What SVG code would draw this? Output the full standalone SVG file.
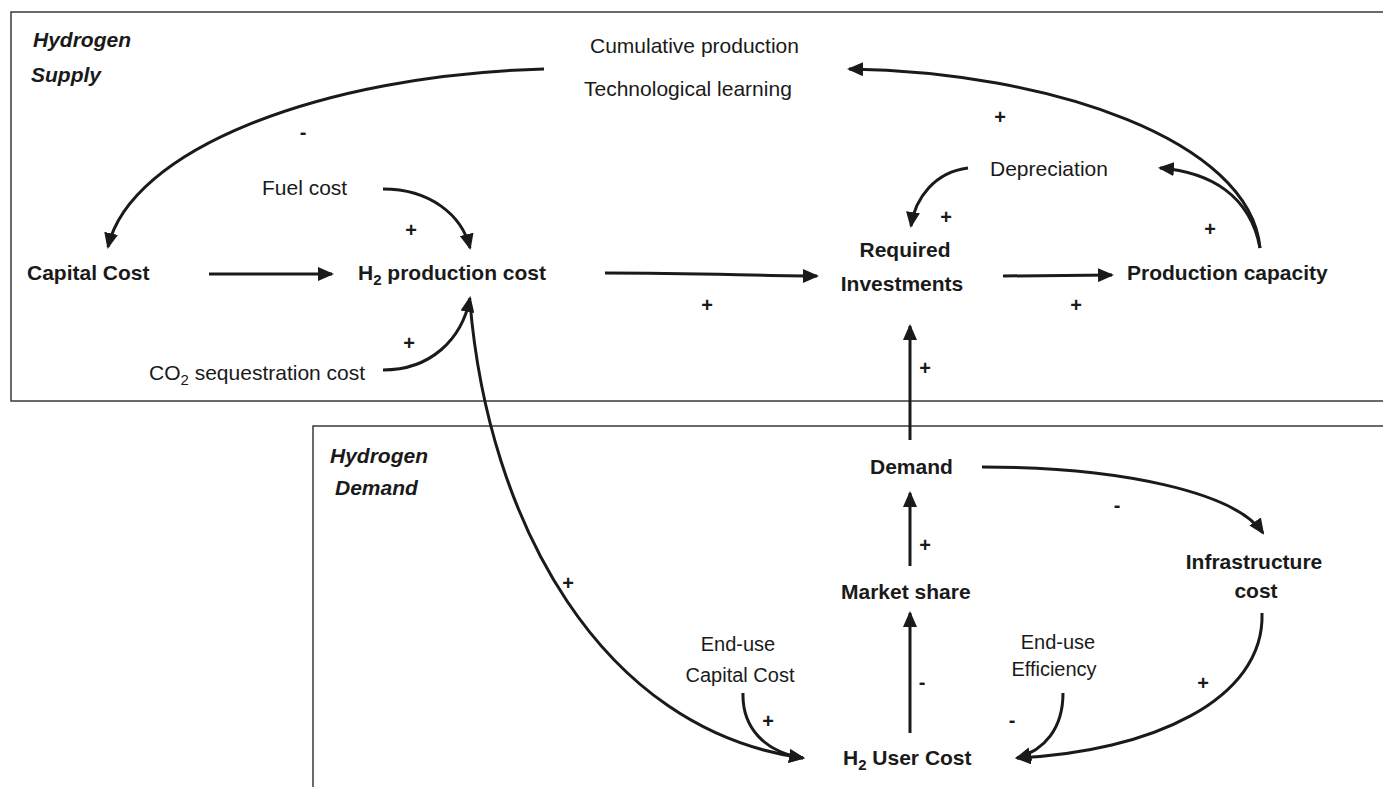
<svg xmlns="http://www.w3.org/2000/svg" width="1383" height="787" viewBox="0 0 1383 787">
<style>
.t{font-family:"Liberation Sans",Arial,Helvetica,sans-serif;font-size:21px;fill:#1a1a1a}
.b{font-weight:bold}
.i{font-weight:bold;font-style:italic}
.m{text-anchor:middle}
.sm{font-size:20px}
.sg{font-family:"Liberation Sans",Arial,sans-serif;font-size:20px;font-weight:bold;fill:#1a1a1a;text-anchor:middle}
.frame{fill:none;stroke:#3a3a3a;stroke-width:1.5}
.c{fill:none;stroke:#1a1a1a;stroke-width:3}
.c path{marker-end:url(#ah)}
</style>
<defs>
<marker id="ah" markerUnits="userSpaceOnUse" markerWidth="16" markerHeight="14" refX="14" refY="7" orient="auto">
<path d="M0,0 L16,7 L0,14 z" fill="#1a1a1a"/>
</marker>
</defs>
<rect width="1383" height="787" fill="#fff"/>
<g id="frames">
<path class="frame" d="M1383,12 H11 V401 H1383"/>
<path class="frame" d="M1383,426 H313 V787"/>
</g>
<g id="section-labels">
<text class="t i" x="33" y="47">Hydrogen</text>
<text class="t i" x="31" y="82">Supply</text>
<text class="t i" x="330" y="463">Hydrogen</text>
<text class="t i" x="335" y="495">Demand</text>
</g>
<g id="node-learning">
<text class="t" x="590" y="53">Cumulative production</text>
<text class="t" x="584" y="96">Technological learning</text>
</g>
<g id="node-fuel"><text class="t" x="262" y="195">Fuel cost</text></g>
<g id="node-capital"><text class="t b" x="27" y="280">Capital Cost</text></g>
<g id="node-h2prod"><text class="t b" x="358" y="280">H<tspan font-size="15" dy="5">2</tspan><tspan dy="-5"> production cost</tspan></text></g>
<g id="node-co2"><text class="t" x="149" y="380">CO<tspan font-size="15" dy="5">2</tspan><tspan dy="-5"> sequestration cost</tspan></text></g>
<g id="node-required">
<text class="t b m" x="905" y="257">Required</text>
<text class="t b m" x="902" y="291">Investments</text>
</g>
<g id="node-depreciation"><text class="t" x="990" y="176">Depreciation</text></g>
<g id="node-capacity"><text class="t b" x="1127" y="280">Production capacity</text></g>
<g id="node-demand"><text class="t b" x="870" y="474">Demand</text></g>
<g id="node-infra">
<text class="t b m" x="1254" y="569">Infrastructure</text>
<text class="t b m" x="1256" y="598">cost</text>
</g>
<g id="node-market"><text class="t b" x="841" y="599">Market share</text></g>
<g id="node-enduse-capital">
<text class="t sm m" x="738" y="651">End-use</text>
<text class="t sm m" x="740" y="682">Capital Cost</text>
</g>
<g id="node-enduse-eff">
<text class="t sm m" x="1058" y="649">End-use</text>
<text class="t sm m" x="1054" y="676">Efficiency</text>
</g>
<g id="node-usercost"><text class="t b" x="843" y="765">H<tspan font-size="15" dy="5">2</tspan><tspan dy="-5"> User Cost</tspan></text></g>
<g id="connectors" class="c">
<path d="M544,69 C320,75 130,150 108,247"/>
<path d="M383,189 C430,189 462,215 470,248"/>
<path d="M209,274 L332,274"/>
<path d="M383,370 C430,370 462,340 470,298"/>
<path d="M470,302 C488,520 600,730 803,758"/>
<path d="M605,273 C700,273 760,276 817,276"/>
<path d="M1003,276 L1112,275"/>
<path d="M1260,248 C1250,140 1050,72 849,69"/>
<path d="M1260,248 C1250,195 1210,172 1160,168"/>
<path d="M968,168 C935,172 915,198 911,226"/>
<path d="M910,440 L910,326"/>
<path d="M910,566 L910,493"/>
<path d="M910,733 L910,613"/>
<path d="M982,467 C1120,467 1235,492 1263,533"/>
<path d="M1262,613 C1265,700 1150,752 1017,758"/>
<path d="M743,693 C742,728 765,752 803,758"/>
<path d="M1063,693 C1063,728 1045,750 1017,758"/>
</g>
<g id="polarities">
<text class="sg" x="303" y="139">-</text>
<text class="sg" x="411" y="237">+</text>
<text class="sg" x="409" y="350">+</text>
<text class="sg" x="707" y="312">+</text>
<text class="sg" x="1000" y="124">+</text>
<text class="sg" x="946" y="224">+</text>
<text class="sg" x="1210" y="236">+</text>
<text class="sg" x="1076" y="312">+</text>
<text class="sg" x="925" y="375">+</text>
<text class="sg" x="1117" y="512">-</text>
<text class="sg" x="925" y="552">+</text>
<text class="sg" x="568" y="590">+</text>
<text class="sg" x="922" y="689">-</text>
<text class="sg" x="1203" y="690">+</text>
<text class="sg" x="768" y="728">+</text>
<text class="sg" x="1012" y="727">-</text>
</g>
</svg>
